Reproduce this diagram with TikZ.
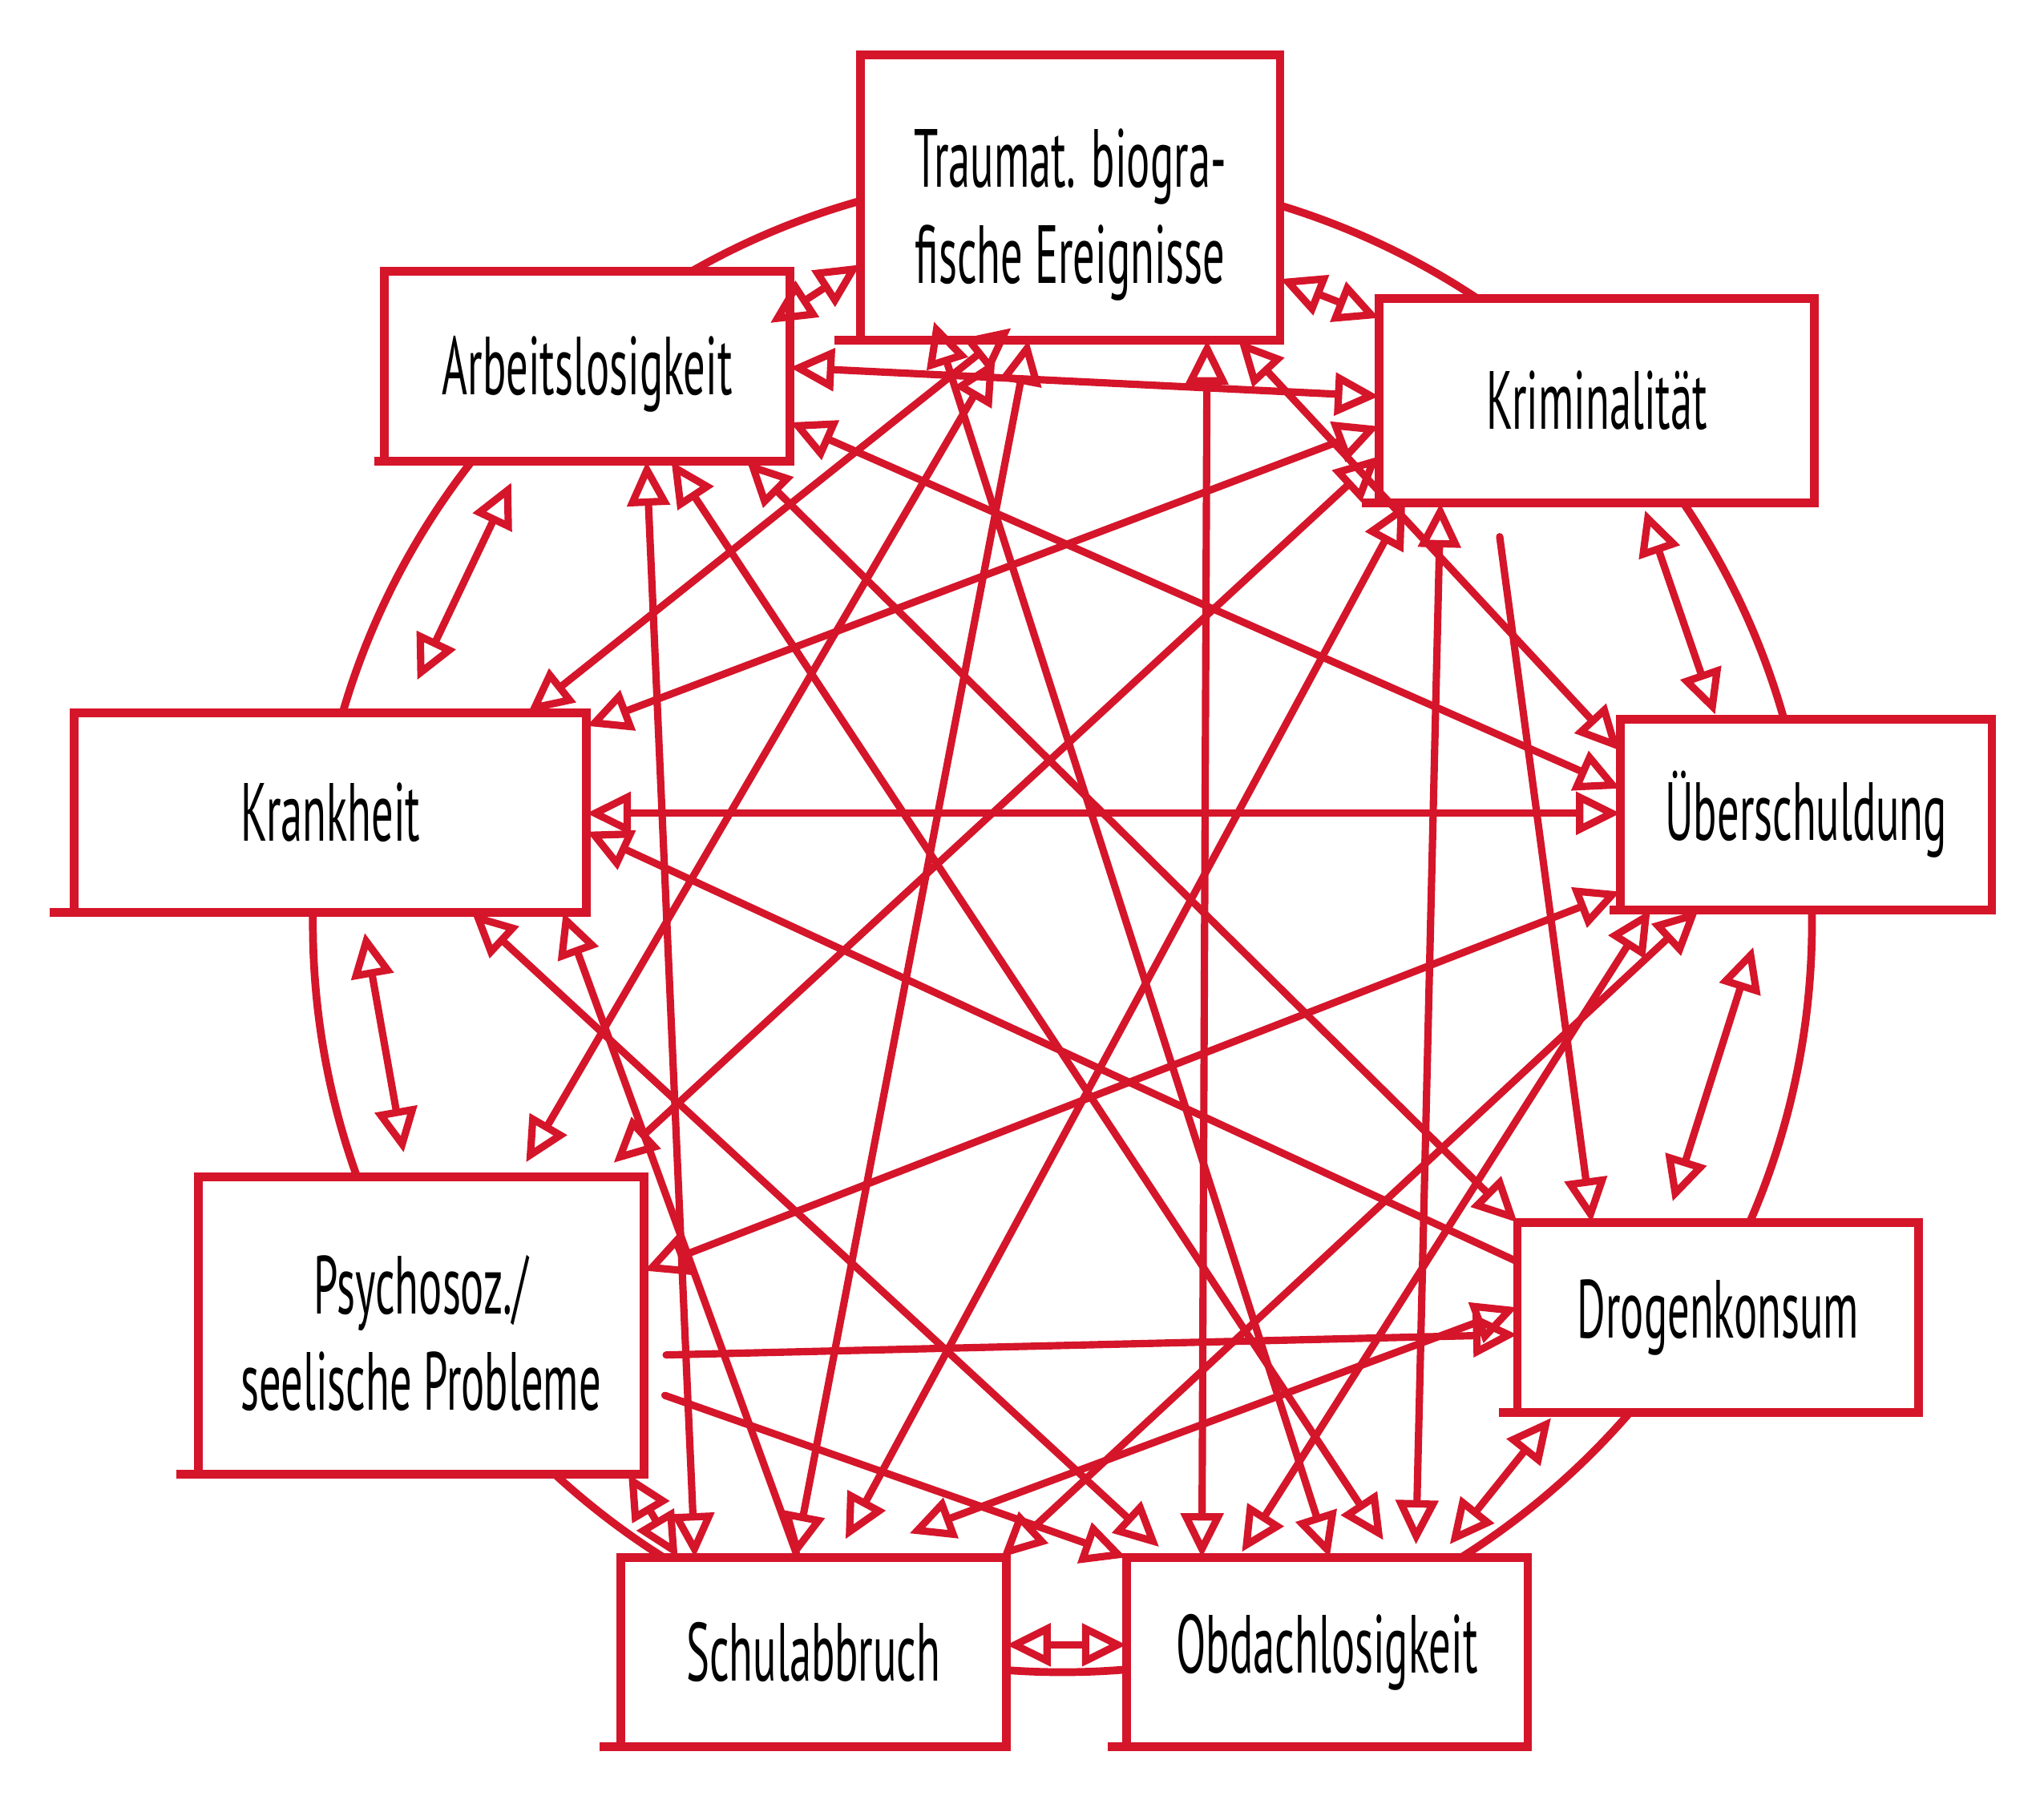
\documentclass[tikz,border=0pt]{standalone}
\usepackage{fontspec}
\newfontfamily\hand[FakeStretch=0.53]{PT Sans}
\usetikzlibrary{arrows.meta}
\definecolor{sketchred}{RGB}{213,21,42}
\newcommand{\lowertext}[2]{\raisebox{-#1}[\height][\depth]{#2}}
\begin{document}
\begin{tikzpicture}[x=0.1mm,y=-0.1mm,
  box/.style={draw=sketchred, line width=1.9pt, fill=white, inner sep=0pt, outer sep=0pt,
    align=center, font=\hand\fontsize{18}{21}\selectfont, text=black},
  con/.style={draw=sketchred, line width=1.6pt, line cap=round},
  dbl/.style={con, {Triangle[open,length=3.4mm,width=3.2mm]}-{Triangle[open,length=3.4mm,width=3.2mm]}},
  sgl/.style={con, -{Triangle[open,length=3.4mm,width=3.2mm]}},
  ring/.style={draw=sketchred, line width=1.7pt},
  overshoot/.style={draw=sketchred, line width=1.9pt}
]
\useasboundingbox (0,0) rectangle (1568,1384);
\fill[white] (0,0) rectangle (1568,1384);

% outer ring
\draw[ring] (815,708) circle[radius=575];

% boxes
\node[box, minimum width=32.2mm, minimum height=21.9mm] (T) at (821,151.5)
  {\lowertext{1.3mm}{Traumat. biogra-}\\\lowertext{1.3mm}{fische Ereignisse}};
\node[box, minimum width=31.1mm, minimum height=14.6mm] (A) at (450.5,281) {\lowertext{0.6mm}{Arbeitslosigkeit}};
\node[box, minimum width=33.4mm, minimum height=15.7mm] (K) at (1225,307.5) {Kriminalität};
\node[box, minimum width=39.3mm, minimum height=15.3mm] (Kr) at (253.5,623.5) {Krankheit};
\node[box, minimum width=28.5mm, minimum height=14.6mm] (U) at (1385.5,625) {Überschuldung};
\node[box, minimum width=34.2mm, minimum height=22.8mm] (P) at (323,1017)
  {\lowertext{0.6mm}{Psychosoz./}\\\lowertext{0.6mm}{seelische Probleme}};
\node[box, minimum width=30.8mm, minimum height=14.6mm] (D) at (1318,1011) {Drogenkonsum};
\node[box, minimum width=29.6mm, minimum height=14.5mm] (S) at (624,1267.5) {Schulabbruch};
\node[box, minimum width=30.8mm, minimum height=14.5mm] (O) at (1018,1267.5) {Obdachlosigkeit};

% sketchy overshoots
\foreach \n/\d in {T/20,A/8,K/13,Kr/19,U/8,P/17,D/14,S/16,O/14}
  \draw[overshoot] (\n.south west) -- ++(-\d,0);

% adjacent pairs
\draw[dbl, shorten <=-1.8mm] (A.east |- 0,238) -- (T.west |- 0,203);
\draw[dbl] (T.east |- 0,214) -- (K.west |- 0,244);
\draw[dbl, shorten <=1.8mm, shorten >=2.8mm] (A.south -| 400,0) -- (Kr.north -| 308,0);
\draw[dbl, shorten <=0.6mm, shorten >=0.4mm] (K.south -| 1260,0) -- (U.north -| 1317,0);
\draw[dbl, shorten <=1.6mm, shorten >=1.9mm] (Kr.south -| 277,0) -- (P.north -| 313,0);
\draw[dbl, shorten <=3mm, shorten >=1.7mm] (U.south -| 1354,0) -- (D.north -| 1278,0);
\draw[dbl] (P.south -| 482,0) -- (S.north -| 520,0);
\draw[dbl, shorten <=0.5mm, shorten >=1.3mm] (D.south -| 1193,0) -- (O.north -| 1104,0);
\draw[dbl] (S.east |- 0,1262) -- (O.west |- 0,1262);

% cross connections
\draw[dbl] (A.east |- 0,282) -- (K.west |- 0,304);
\draw[dbl] (A.east |- 0,324) -- (U.west |- 0,605);
\draw[dbl] (A.south -| 496,0) -- (S.north -| 533,0);
\draw[dbl, shorten >=1.6mm] (A.south -| 515,0) -- (O.north -| 1070,0);
\draw[dbl] (A.south -| 573,0) -- (D.north west);
\draw[dbl, shorten <=-1.5mm] (T.south -| 764,0) -- (Kr.north -| 405,0);
\draw[dbl, shorten <=1.7mm, shorten >=1.3mm] (T.south -| 772,0) -- (P.north -| 397,0);
\draw[dbl] (T.south -| 789,0) -- (S.north -| 610,0);
\draw[dbl, shorten <=-1.5mm] (T.south -| 721,0) -- (O.north -| 1020,0);
\draw[dbl] (T.south -| 926,0) -- (O.north -| 922,0);
\draw[dbl] (T.south -| 950,0) -- (U.west |- 0,576);
\draw[dbl] (K.west |- 0,327) -- (Kr.east |- 0,557);
\draw[dbl, shorten >=1.6mm] (K.west |- 0,350) -- (P.north -| 459,0);
\draw[dbl, shorten >=1.6mm] (K.south -| 1078,0) -- (S.north -| 641,0);
\draw[dbl, shorten >=1mm] (K.south -| 1105,0) -- (O.north -| 1086,0);
\draw[sgl, shorten <=2.6mm] (K.south -| 1147,0) -- (D.north -| 1221,0);
\draw[dbl] (U.west |- 0,624) -- (Kr.east |- 0,624);
\draw[dbl] (U.west |- 0,684) -- (P.east |- 0,975);
\draw[dbl, shorten >=0.5mm] (U.south -| 1266,0) -- (O.north -| 950,0);
\draw[dbl] (U.south -| 1303,0) -- (S.north -| 768,0);
\draw[sgl] (D.west |- 0,968) -- (Kr.east |- 0,638);
\draw[sgl, shorten <=1.7mm] (P.east |- 0,1040) -- (D.west |- 0,1024);
\draw[dbl, shorten >=5.3mm] (D.west |- 0,1003) -- (S.north -| 648,0);
\draw[sgl, shorten <=1.7mm] (P.east |- 0,1065) -- (O.north west);
\draw[dbl, shorten >=1.2mm] (Kr.south -| 362,0) -- (O.north -| 898,0);
\draw[sgl] (S.north -| 612,0) -- (Kr.south -| 432,0);
\end{tikzpicture}
\end{document}
